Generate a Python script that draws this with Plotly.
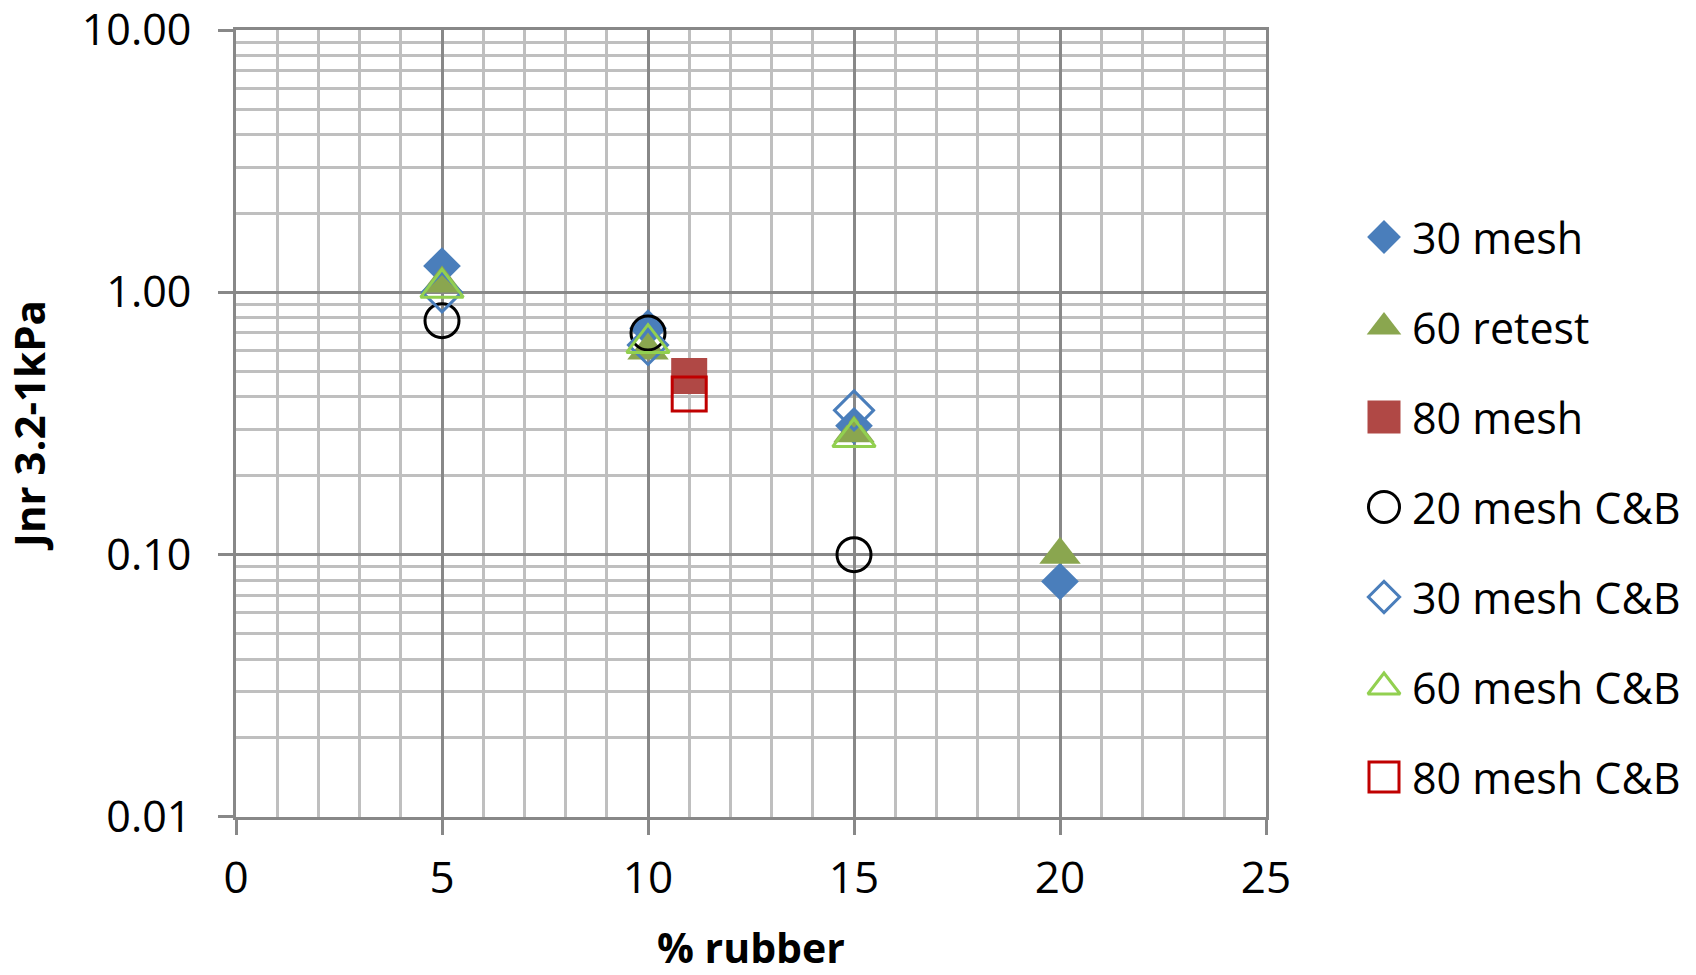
import plotly.graph_objects as go

# % rubber content for each series
x_30_mesh = [5, 10, 15, 20]
y_30_mesh = [1.26, 0.73, 0.31, 0.079]

x_60_retest = [5, 10, 15, 20]
y_60_retest = [1.08, 0.60, 0.29, 0.10]

x_80_mesh = [11]
y_80_mesh = [0.48]

x_20_cb = [5, 10, 15]
y_20_cb = [0.78, 0.70, 0.10]

x_30_cb = [5, 10, 15]
y_30_cb = [1.00, 0.63, 0.355]

x_60_cb = [5, 10, 15]
y_60_cb = [1.04, 0.64, 0.28]

x_80_cb = [11]
y_80_cb = [0.41]

y_tickvals = [0.01, 0.1, 1, 10]
y_ticktext = ["0.01", "0.10", "1.00", "10.00"]

FONT = "Open Sans"
MAJOR = "#888888"
MINOR = "#BFBFBF"

W, H = 1696, 975
ML, MT, MB = 236, 30, 158
PLOT_RIGHT = 1266                 # right edge of the data area, px
PAPER_W = W - ML                  # margin r = 0, so paper spans to the right edge
PAPER_H = H - MT - MB
X_TITLE_Y = 947                   # vertical centre of the x-axis title, px

# name, x, y, symbol, colour, plot size, legend size, outline width
series = [
    ("30 mesh", x_30_mesh, y_30_mesh, "diamond", "#4A7EBB", 29, 26, 0),
    ("60 retest", x_60_retest, y_60_retest, "triangle-up", "#8AA64F", 36, 30, 0),
    ("80 mesh", x_80_mesh, y_80_mesh, "square", "#B04845", 36, 33, 0),
    ("20 mesh C&B", x_20_cb, y_20_cb, "circle-open", "#000000", 34, 31, 3),
    ("30 mesh C&B", x_30_cb, y_30_cb, "diamond-open", "#4A7EBB", 30, 24, 3),
    ("60 mesh C&B", x_60_cb, y_60_cb, "triangle-up-open", "#92D050", 37, 28, 3),
    ("80 mesh C&B", x_80_cb, y_80_cb, "square-open", "#C00000", 34, 30, 3),
]

fig = go.Figure()

# data markers
for name, xs, ys, sym, col, size, lsize, lw in series:
    fig.add_trace(go.Scatter(
        x=xs, y=ys, mode="markers", name=name, showlegend=False,
        marker=dict(symbol=sym, size=size, color=col,
                    line=dict(width=lw, color=col)),
        xaxis="x", yaxis="y",
    ))

# legend key drawn on a hidden pixel-scaled axis pair to the right
LEG_LEFT = 1340
ROW0, ROW_STEP = 237, 90
KEY_X, TEXT_X = 44, 70
for row, (name, xs, ys, sym, col, size, lsize, lw) in enumerate(series):
    fig.add_trace(go.Scatter(
        x=[KEY_X], y=[row], mode="markers", showlegend=False, hoverinfo="skip",
        marker=dict(symbol=sym, size=lsize, color=col,
                    line=dict(width=lw, color=col)),
        xaxis="x2", yaxis="y2",
    ))
    fig.add_annotation(
        x=TEXT_X, y=row, xref="x2", yref="y2", text=name, showarrow=False,
        xanchor="left", yanchor="middle",
        font=dict(family=FONT, size=43, color="black"),
    )

# x-axis title, placed below the tick labels
x_domain_end = (PLOT_RIGHT - ML) / PAPER_W
fig.add_annotation(
    x=x_domain_end / 2, y=(MT + PAPER_H - X_TITLE_Y) / PAPER_H,
    xref="paper", yref="paper", text="<b>% rubber</b>", showarrow=False,
    xanchor="center", yanchor="middle",
    font=dict(family=FONT, size=41, color="black"),
)

y2_top = (MT - ROW0) / ROW_STEP
y2_bot = (MT + PAPER_H - ROW0) / ROW_STEP

fig.update_layout(
    width=W, height=H,
    margin=dict(l=ML, r=0, t=MT, b=MB, autoexpand=False),
    paper_bgcolor="white", plot_bgcolor="white",
    font=dict(family=FONT, size=44, color="black"),
    showlegend=False,
    xaxis=dict(
        domain=[0, x_domain_end],
        range=[0, 25], dtick=5, tick0=0,
        showgrid=True, gridcolor=MAJOR, gridwidth=3,
        minor=dict(dtick=1, showgrid=True, gridcolor=MINOR, gridwidth=2.5),
        showline=True, linecolor=MAJOR, linewidth=3, mirror=True,
        ticks="outside", ticklen=15, tickwidth=3, tickcolor=MAJOR,
        zeroline=False, ticklabelstandoff=5, automargin=False,
        ticklabeloverflow="allow",
        tickfont=dict(family=FONT, size=44),
    ),
    yaxis=dict(
        type="log", range=[-2.0002, 1.0002],
        tickvals=y_tickvals, ticktext=y_ticktext,
        showgrid=True, gridcolor=MAJOR, gridwidth=3,
        minor=dict(dtick="D1", showgrid=True, gridcolor=MINOR, gridwidth=2.5),
        showline=True, linecolor=MAJOR, linewidth=3, mirror=True,
        ticks="outside", ticklen=15, tickwidth=3, tickcolor=MAJOR,
        zeroline=False, ticklabelstandoff=18, automargin=False,
        ticklabeloverflow="allow",
        tickfont=dict(family=FONT, size=43),
        title=dict(text="<b>Jnr 3.2-1kPa</b>", font=dict(family=FONT, size=42), standoff=40),
    ),
    xaxis2=dict(
        domain=[(LEG_LEFT - ML) / PAPER_W, 1], range=[0, W - LEG_LEFT],
        anchor="y2", visible=False, fixedrange=True, automargin=False,
    ),
    yaxis2=dict(
        domain=[0, 1], range=[y2_bot, y2_top],
        anchor="x2", visible=False, fixedrange=True, automargin=False,
    ),
)

fig.write_html("out.html")
